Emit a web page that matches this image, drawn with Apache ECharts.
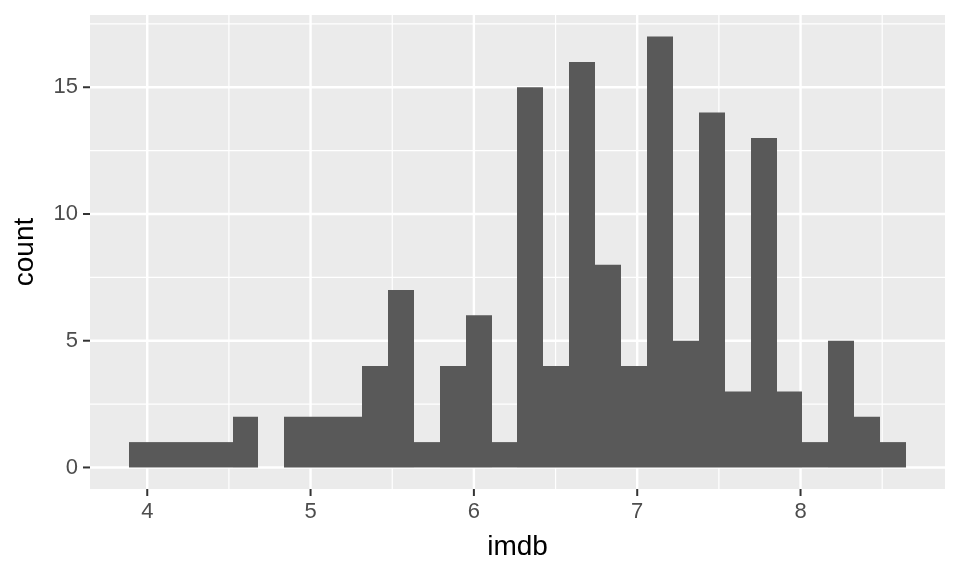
<!DOCTYPE html>
<html>
<head>
<meta charset="utf-8">
<script src="https://cdn.jsdelivr.net/npm/echarts@6/dist/echarts.min.js"></script>
<style>html,body{margin:0;padding:0;background:#fff;}#c{width:960px;height:576px;}</style>
</head>
<body>
<div id="c"></div>
<script>
// histogram: 30 bins of imdb ratings
const binStart = 3.888;
const binWidth = 0.1586;
const counts = [1,1,1,1,2,0,2,2,2,4,7,1,4,6,1,15,4,16,8,4,17,5,14,3,13,3,1,5,2,1];
const xTicks = [4,5,6,7,8];
const xMinor = [4.5,5.5,6.5,7.5,8.5];
const yTicks = [0,5,10,15];
const yMinor = [2.5,7.5,12.5,17.5];

const barData = counts.map((c,i)=>[binStart + i*binWidth, binStart + (i+1)*binWidth, c]);

const FONT = 'Liberation Sans, Arial, Helvetica, sans-serif';
const TICK_LEN = 7, TICK_GAP = 5, LABEL_SIZE = 22;
const MAJOR_W = 2.4, MINOR_W = 1.2;

function vLine(isMajor){
  return (params, api)=>{
    const cs = params.coordSys;
    const v = api.value(0);
    const p = api.coord([v, 0]);
    const children = [{type:'line', shape:{x1:p[0], y1:cs.y, x2:p[0], y2:cs.y+cs.height},
      style:{stroke:'#ffffff', lineWidth:isMajor?MAJOR_W:MINOR_W}}];
    if(isMajor){
      children.push({type:'line', shape:{x1:p[0], y1:cs.y+cs.height, x2:p[0], y2:cs.y+cs.height+TICK_LEN},
        style:{stroke:'#333333', lineWidth:2}});
      children.push({type:'text', x:p[0], y:cs.y+cs.height+TICK_LEN+TICK_GAP,
        style:{text:String(v), fill:'#4D4D4D', font:LABEL_SIZE+'px '+FONT, align:'center', verticalAlign:'top'}});
    }
    return {type:'group', children};
  };
}
function hLine(isMajor){
  return (params, api)=>{
    const cs = params.coordSys;
    const v = api.value(1);
    const p = api.coord([4, v]);
    const children = [{type:'line', shape:{x1:cs.x, y1:p[1], x2:cs.x+cs.width, y2:p[1]},
      style:{stroke:'#ffffff', lineWidth:isMajor?MAJOR_W:MINOR_W}}];
    if(isMajor){
      children.push({type:'line', shape:{x1:cs.x-TICK_LEN, y1:p[1], x2:cs.x, y2:p[1]},
        style:{stroke:'#333333', lineWidth:2}});
      children.push({type:'text', x:cs.x-TICK_LEN-TICK_GAP, y:p[1],
        style:{text:String(v), fill:'#4D4D4D', font:LABEL_SIZE+'px '+FONT, align:'right', verticalAlign:'middle'}});
    }
    return {type:'group', children};
  };
}

const chart = echarts.init(document.getElementById('c'), null, {renderer:'canvas'});
chart.setOption({
  animation:false,
  backgroundColor:'#ffffff',
  grid:{left:90, right:15, top:15, bottom:87, show:true, backgroundColor:'#EBEBEB', borderWidth:0},
  xAxis:{
    type:'value', min:3.6495, max:8.8845,
    name:'imdb', nameLocation:'middle', nameGap:44,
    nameTextStyle:{color:'#000', fontSize:28, fontFamily:FONT},
    axisLine:{show:false}, axisTick:{show:false}, axisLabel:{show:false}, splitLine:{show:false}
  },
  yAxis:{
    type:'value', min:-0.85, max:17.85,
    name:'count', nameLocation:'middle', nameGap:51, nameRotate:90,
    nameTextStyle:{color:'#000', fontSize:28, fontFamily:FONT},
    axisLine:{show:false}, axisTick:{show:false}, axisLabel:{show:false}, splitLine:{show:false}
  },
  series:[
    {type:'custom', z:1, silent:true, data:xMinor.map(v=>[v,0]), encode:{x:0,y:1}, renderItem:vLine(false)},
    {type:'custom', z:1, silent:true, data:yMinor.map(v=>[4,v]), encode:{x:0,y:1}, renderItem:hLine(false)},
    {type:'custom', z:1, silent:true, data:xTicks.map(v=>[v,0]), encode:{x:0,y:1}, renderItem:vLine(true)},
    {type:'custom', z:1, silent:true, data:yTicks.map(v=>[4,v]), encode:{x:0,y:1}, renderItem:hLine(true)},
    {
      type:'custom', z:2,
      data:barData,
      encode:{x:[0,1], y:2},
      renderItem:(params, api)=>{
        if(!api.value(2)) return null;
        const p0 = api.coord([api.value(0), 0]);
        const p1 = api.coord([api.value(1), api.value(2)]);
        const x0 = Math.round(p0[0]), x1 = Math.round(p1[0]);
        return {type:'rect', shape:{x:x0, y:p1[1], width:x1-x0, height:p0[1]-p1[1]},
          style:{fill:'#595959'}};
      }
    }
  ]
});
</script>
</body>
</html>
